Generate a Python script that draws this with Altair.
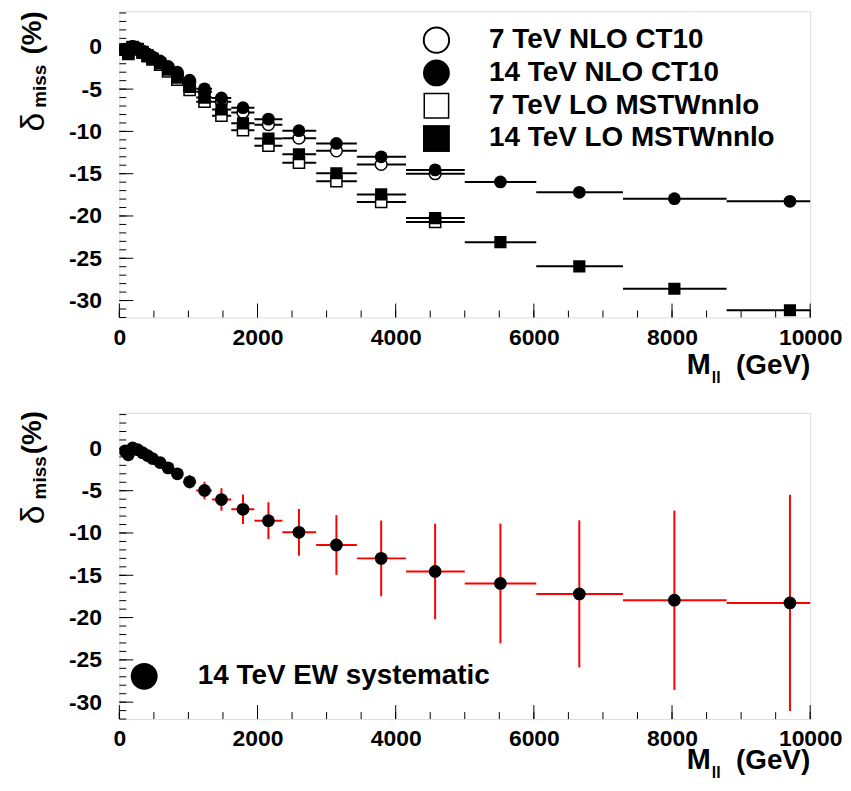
import altair as alt
import pandas as pd

# ---------------- data ----------------
mass = [82, 130, 192, 264, 336, 408, 480, 590, 705, 840, 1017, 1233, 1478,
        1790, 2158, 2600, 3142, 3790, 4571, 5516, 6658, 8034, 9707]
bin_lo = [66, 106, 160, 228, 300, 372, 444, 524, 632, 763, 921, 1112, 1342,
          1620, 1955, 2360, 2849, 3438, 4150, 5000, 6035, 7290, 8790]
bin_hi = bin_lo[1:] + [10600]

nlo_7 = [-0.3, -0.75, 0.0, -0.2, -0.55, -0.9, -1.3, -1.8, -2.45, -3.2, -4.2,
         -5.3, -6.5, -7.76, -9.2, -10.8, -12.3, -13.9, -15.0]
nlo_14 = [-0.3, -0.75, 0.05, -0.15, -0.5, -0.85, -1.2, -1.67, -2.3, -3.0, -3.95,
          -4.97, -6.05, -7.2, -8.55, -9.92, -11.42, -13.0, -14.55, -15.97,
          -17.2, -17.95, -18.27]
lo_7 = [-0.35, -0.85, -0.05, -0.3, -0.7, -1.1, -1.5, -2.1, -2.9, -3.9, -5.1,
        -6.5, -8.15, -9.85, -11.7, -13.7, -15.9, -18.35, -20.7]
lo_14 = [-0.3, -0.8, 0.0, -0.25, -0.6, -1.0, -1.4, -1.95, -2.7, -3.65, -4.75,
         -6.0, -7.4, -9.05, -10.85, -12.7, -14.95, -17.45, -20.25, -23.1,
         -25.95, -28.6, -31.15]
ew_sys_14 = [0.0, 0.05, 0.05, 0.1, 0.1, 0.15, 0.2, 0.3, 0.4, 0.6, 0.8, 1.03,
             1.33, 1.75, 2.18, 2.77, 3.53, 4.48, 5.65, 7.08, 8.7, 10.6, 12.78]

x_labels = [0, 2000, 4000, 6000, 8000, 10000]
x_minor = list(range(0, 10001, 500))
y_labels = [0, -5, -10, -15, -20, -25, -30]
y_minor = list(range(-32, 5))

legend_top = ["7 TeV NLO CT10", "14 TeV NLO CT10",
              "7 TeV LO MSTWnnlo", "14 TeV LO MSTWnnlo"]
legend_bottom = "14 TeV EW systematic"

# ---------------- styling ----------------
FONT = "Liberation Sans"
W, H = 695, 308
xs = alt.Scale(domain=[0, 10000], nice=False, zero=False)
ys = alt.Scale(domain=[-32, 4.2], nice=False, zero=False)

x_axis = alt.Axis(values=x_labels, format="d", title=None, grid=False, ticks=False,
                  domain=False, labelFont=FONT, labelFontSize=23,
                  labelFontWeight="bold", labelColor="black", labelPadding=9,
                  labelFlush=False, labelOverlap=False)
y_axis = alt.Axis(values=y_labels, title=None, grid=False, ticks=False,
                  domain=False, labelFont=FONT, labelFontSize=23,
                  labelFontWeight="bold", labelColor="black", labelPadding=18,
                  labelOverlap=False,
                  labelExpr="replace(format(datum.value, 'd'), '\u2212', '-')")

one = pd.DataFrame({"k": [0]})


def series(vals, name):
    n = len(vals)
    return pd.DataFrame({"m": mass[:n], "lo": bin_lo[:n], "hi": bin_hi[:n],
                         "v": vals, "s": name})


def X(f):
    return alt.X(f, type="quantitative", scale=xs, axis=x_axis)


def Y(f):
    return alt.Y(f, type="quantitative", scale=ys, axis=y_axis)


def txt(s, x, y, size, weight="bold", align="left", angle=0, baseline="alphabetic"):
    return alt.Chart(one).mark_text(
        text=s, font=FONT, fontSize=size, fontWeight=weight, color="black",
        align=align, baseline=baseline, angle=angle
    ).encode(x=alt.value(x), y=alt.value(y))


def sym(x, y, shape, size, filled, sw=1.5):
    if filled:
        m = alt.Chart(one).mark_point(shape=shape, size=size, filled=True,
                                      color="black", opacity=1)
    else:
        m = alt.Chart(one).mark_point(shape=shape, size=size, filled=True,
                                      fill="white", stroke="black",
                                      strokeWidth=sw, opacity=1)
    return m.encode(x=alt.value(x), y=alt.value(y))


def ticks():
    xt = pd.DataFrame({"t": x_minor})
    xT = pd.DataFrame({"t": x_labels})
    yt = pd.DataFrame({"t": y_minor})
    yT = pd.DataFrame({"t": y_labels})
    r = dict(color="black", strokeWidth=1)
    return [
        alt.Chart(xt).mark_rule(**r).encode(x=X("t"), y=alt.value(H), y2=alt.value(H - 7)),
        alt.Chart(xT).mark_rule(**r).encode(x=X("t"), y=alt.value(H), y2=alt.value(H - 14)),
        alt.Chart(yt).mark_rule(**r).encode(y=Y("t"), x=alt.value(0), x2=alt.value(7)),
        alt.Chart(yT).mark_rule(**r).encode(y=Y("t"), x=alt.value(0), x2=alt.value(14)),
    ]


def xtitle(base):
    return [txt("M", 595, base, 29, align="right"),
            txt("ll", 596, base + 9, 16, align="left"),
            txt("(GeV)", 695, base, 28, align="right")]


def ytitle(d_start, m_start, p_end):
    return [txt("\u03b4", -76, d_start, 34, weight="normal", align="left", angle=270),
            txt("miss", -74, m_start, 19, align="left", angle=270),
            txt("(%)", -79, p_end, 28, align="right", angle=270)]


# ---------------- top panel ----------------
s7n, s14n, s7l, s14l = (series(nlo_7, "a"), series(nlo_14, "b"),
                        series(lo_7, "c"), series(lo_14, "d"))
all_s = pd.concat([s7n, s14n, s7l, s14l], ignore_index=True)

hl = alt.Chart(all_s).mark_rule(color="black", strokeWidth=2, clip=True).encode(
    x=X("lo"), x2="hi", y=Y("v"))


def pts(df, shape, size, filled):
    if filled:
        m = alt.Chart(df).mark_point(shape=shape, size=size, filled=True,
                                     color="black", opacity=1, clip=True)
    else:
        m = alt.Chart(df).mark_point(shape=shape, size=size, filled=True,
                                     fill="white", stroke="black",
                                     strokeWidth=1.5, opacity=1, clip=True)
    return m.encode(x=X("m"), y=Y("v"))


top_layers = ticks() + [
    hl,
    pts(s7l, "square", 125, False),
    pts(s7n, "circle", 140, False),
    pts(s14l, "square", 150, True),
    pts(s14n, "circle", 165, True),
]
ly = [29, 62, 95, 128]
top_layers += [
    sym(319, ly[0], "circle", 650, False, 2), txt(legend_top[0], 372, ly[0], 28, baseline="middle"),
    sym(319, ly[1], "circle", 729, True), txt(legend_top[1], 372, ly[1], 28, baseline="middle"),
    sym(319, ly[2], "square", 600, False, 1.5), txt(legend_top[2], 372, ly[2], 28, baseline="middle"),
    sym(319, ly[3], "square", 729, True), txt(legend_top[3], 372, ly[3], 28, baseline="middle"),
]
top_layers += xtitle(365) + ytitle(121, 97, 0)

top = alt.layer(*top_layers).properties(width=W, height=H)

# ---------------- bottom panel ----------------
sys_df = series(nlo_14, "b")
sys_df["e"] = ew_sys_14
sys_df["up"] = sys_df["v"] + sys_df["e"]
sys_df["dn"] = sys_df["v"] - sys_df["e"]

red_h = alt.Chart(sys_df).mark_rule(color="#ff0000", strokeWidth=2, clip=True).encode(
    x=X("lo"), x2="hi", y=Y("v"))
red_v = alt.Chart(sys_df).mark_rule(color="#ff0000", strokeWidth=2, clip=True).encode(
    x=X("m"), y=Y("dn"), y2="up")

bot_layers = ticks() + [red_h, red_v, pts(sys_df, "circle", 165, True)]
bot_layers += [sym(25, 265, "circle", 729, True),
               txt(legend_bottom, 79, 265, 28, baseline="middle")]
bot_layers += xtitle(358) + ytitle(112, 87, -2)

bottom = alt.layer(*bot_layers).properties(width=W, height=H)

chart = alt.vconcat(top, bottom, spacing=96, bounds="flush").properties(
    padding={"left": 8, "top": 0, "right": 0, "bottom": 0}
).configure_view(stroke="black", strokeWidth=2).configure(background="white")

chart.save("out.html", embed_options={"renderer": "svg", "actions": False})
